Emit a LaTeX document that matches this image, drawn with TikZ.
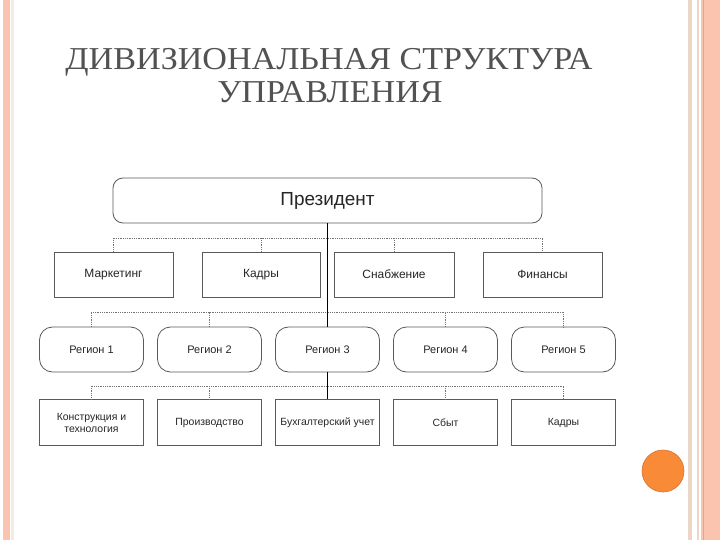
\documentclass[tikz,border=0pt]{standalone}
\usepackage{fontspec}
\setmainfont{Liberation Serif}
\setsansfont{Liberation Sans}
\newfontfamily\headfont[FakeStretch=1.07]{Liberation Serif}
\usepackage{tikz}
\usetikzlibrary{positioning, calc}
\definecolor{Salmon1}{RGB}{250,196,174}
\definecolor{Salmon2}{RGB}{240,160,130}
\definecolor{Pale1}{RGB}{236,214,200}
\definecolor{Orng1}{RGB}{249,138,56}
\definecolor{Edge1}{RGB}{90,90,90}

\begin{document}
\begin{tikzpicture}[x=1bp, y=-1bp,
    head/.style={font=\fontsize{32}{33}\selectfont\headfont, text=black!68},
    pbox/.style={rectangle, rounded corners=10bp, draw=Edge1, line width=0.8bp,
                 minimum width=429bp, minimum height=45bp,
                 font=\fontsize{19}{21}\selectfont\sffamily, text=black!85},
    dbox/.style={rectangle, draw=Edge1, line width=0.8bp,
                 minimum height=45bp, inner sep=1bp,
                 font=\fontsize{12}{14}\selectfont\sffamily, text=black!85},
    rbox/.style={rectangle, rounded corners=13bp, draw=Edge1, line width=0.8bp,
                 minimum width=104bp, minimum height=45bp,
                 font=\fontsize{11}{13}\selectfont\sffamily, text=black!85},
    ubox/.style={rectangle, draw=Edge1, line width=0.8bp,
                 minimum width=104bp, minimum height=46bp, inner sep=1bp,
                 align=center, font=\fontsize{10.5}{12.5}\selectfont\sffamily,
                 text=black!85},
    link/.style={draw=black!55, line width=0.8bp, densely dotted},
    trunk/.style={draw=black, line width=0.9bp}]

  %--- Фон слайда ---
  \fill[white] (0,0) rectangle (720,540);
  \fill[Salmon1] (3,0) rectangle (10,540);
  \fill[Pale1!50] (11,0) rectangle (14,540);
  \fill[Pale1] (688,0) rectangle (692,540);
  \fill[Pale1] (697,0) rectangle (699,540);
  \fill[Salmon1] (701,0) rectangle (720,540);
  \fill[Salmon2] (702.5,0) rectangle (704,540);
  \node[circle, fill=Orng1, draw=Orng1!85!black, line width=0.6bp,
        minimum size=42bp, inner sep=0pt] (dot) at (663,471) {};

  %--- Заголовок ---
  \node[head, anchor=base] (title1) at (329,70) {ДИВИЗИОНАЛЬНАЯ СТРУКТУРА};
  \node[head, anchor=base] (title2) at (330,103) {УПРАВЛЕНИЯ};

  %--- Президент и службы ---
  \node[pbox] (pres) at (327.5,200.5) {Президент};
  \node[dbox, minimum width=119bp] (mkt)  at (113.5,274.5) {Маркетинг};
  \node[dbox, minimum width=118bp] (kadr) at (261,274.5)   {Кадры};
  \node[dbox, minimum width=120bp] (snab) at (394,274.5)   {Снабжение};
  \node[dbox, minimum width=119bp] (fin)  at (542.5,274.5) {Финансы};

  %--- Регионы ---
  \node[rbox] (reg3) at (327.5,349.5) {Регион 3};
  \node[rbox, left=13.2bp of reg3]  (reg2) {Регион 2};
  \node[rbox, left=13.2bp of reg2]  (reg1) {Регион 1};
  \node[rbox, right=13.2bp of reg3] (reg4) {Регион 4};
  \node[rbox, right=13.2bp of reg4] (reg5) {Регион 5};

  %--- Подразделения ---
  \node[ubox, below=27bp of reg1] (unit1) {Конструкция и\\технология};
  \node[ubox, below=27bp of reg2] (unit2) {Производство};
  \node[ubox, below=27bp of reg3] (unit3) {Бухгалтерский учет};
  \node[ubox, below=27bp of reg4] (unit4) {Сбыт};
  \node[ubox, below=27bp of reg5] (unit5) {Кадры};

  %--- Шины ---
  \coordinate (bus1) at (0,238);
  \coordinate (bus2) at (0,312);
  \coordinate (bus3) at (0,386);

  \draw[link] (mkt.north) |- (bus1 -| fin.north) -- (fin.north);
  \draw[link] (kadr.north) -- (kadr.north |- bus1);
  \draw[link] (snab.north) -- (snab.north |- bus1);

  \draw[link] (reg1.north) |- (bus2 -| reg5.north) -- (reg5.north);
  \draw[link] (reg2.north) -- (reg2.north |- bus2);
  \draw[link] (reg4.north) -- (reg4.north |- bus2);

  \draw[link] (unit1.north) |- (bus3 -| unit5.north) -- (unit5.north);
  \draw[link] (unit2.north) -- (unit2.north |- bus3);
  \draw[link] (unit4.north) -- (unit4.north |- bus3);

  %--- Вертикаль подчинения ---
  \draw[trunk] (pres.south) -- (reg3.north);
  \draw[trunk] (reg3.south) -- (unit3.north);
\end{tikzpicture}
\end{document}
